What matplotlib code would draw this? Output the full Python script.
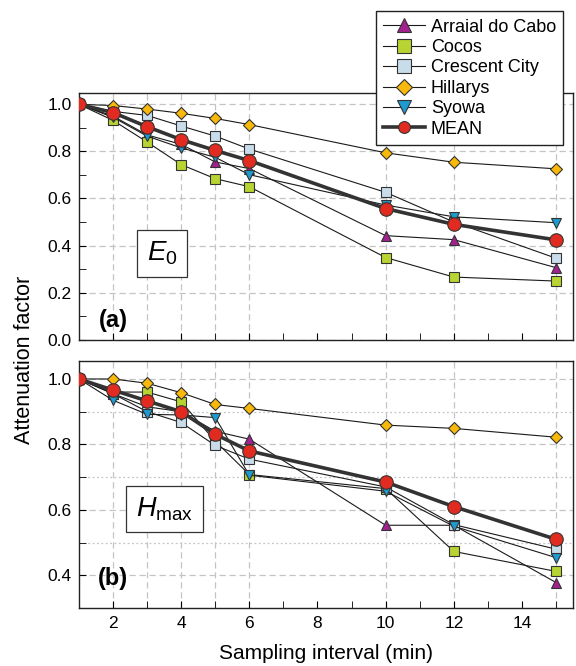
import matplotlib
matplotlib.use("Agg")
import matplotlib.pyplot as plt
from matplotlib.ticker import MultipleLocator, FormatStrFormatter

plt.rcParams['font.family'] = ['Liberation Sans', 'DejaVu Sans']
plt.rcParams['mathtext.fontset'] = 'custom'
plt.rcParams['mathtext.rm'] = 'Liberation Sans'
plt.rcParams['mathtext.it'] = 'Liberation Sans:italic'

# sampling intervals (min)
intervals = [1, 2, 3, 4, 5, 6, 10, 12, 15]
stations = ['Arraial do Cabo', 'Cocos', 'Crescent City', 'Hillarys', 'Syowa', 'MEAN']

# panel (a): E0 attenuation
arraial_e0 = [1.0, 0.95, 0.87, 0.83, 0.755, 0.727, 0.442, 0.425, 0.306]
cocos_e0 = [1.0, 0.932, 0.84, 0.744, 0.684, 0.65, 0.349, 0.266, 0.249]
crescent_e0 = [1.0, 0.97, 0.953, 0.908, 0.865, 0.81, 0.626, 0.50, 0.346]
hillarys_e0 = [1.0, 0.995, 0.98, 0.962, 0.94, 0.914, 0.794, 0.754, 0.726]
syowa_e0 = [1.0, 0.945, 0.865, 0.815, 0.775, 0.701, 0.572, 0.522, 0.497]
mean_e0 = [1.0, 0.965, 0.905, 0.85, 0.804, 0.761, 0.557, 0.49, 0.424]

# panel (b): Hmax attenuation
arraial_h = [1.0, 0.955, 0.915, 0.90, 0.84, 0.816, 0.553, 0.553, 0.378]
cocos_h = [1.0, 0.96, 0.96, 0.93, 0.81, 0.708, 0.665, 0.473, 0.412]
crescent_h = [1.0, 0.955, 0.90, 0.867, 0.797, 0.755, 0.67, 0.555, 0.48]
hillarys_h = [1.0, 1.0, 0.987, 0.958, 0.922, 0.91, 0.859, 0.849, 0.822]
syowa_h = [1.0, 0.935, 0.892, 0.89, 0.882, 0.706, 0.657, 0.55, 0.454]
mean_h = [1.0, 0.966, 0.933, 0.90, 0.831, 0.78, 0.685, 0.61, 0.51]

styles = [
    dict(marker='^', mfc='#a3218e', ms=7),
    dict(marker='s', mfc='#b8d432', ms=6.5),
    dict(marker='s', mfc='#c9dce9', ms=6.5),
    dict(marker='D', mfc='#f8b90b', ms=6),
    dict(marker='v', mfc='#1d9bd0', ms=7),
    dict(marker='o', mfc='#e12b20', ms=9.7),
]
legend_ms = [9.5, 9.5, 9.5, 8.5, 9.5, 8.5]

fig = plt.figure(figsize=(5.76, 6.66), dpi=100)
ax1 = fig.add_axes([0.137, 0.490, 0.858, 0.371])
ax2 = fig.add_axes([0.137, 0.087, 0.858, 0.371])

panels = [
    (ax1, [arraial_e0, cocos_e0, crescent_e0, hillarys_e0, syowa_e0, mean_e0]),
    (ax2, [arraial_h, cocos_h, crescent_h, hillarys_h, syowa_h, mean_h]),
]

grid_kw = dict(color='#c4c4c4', lw=0.9, ls=(0, (5, 3)), zorder=0)

for ax, series in panels:
    for name, vals, st in zip(stations, series, styles):
        if name == 'MEAN':
            ax.plot(intervals, vals, color='#333333', lw=2.6, mec='#333333',
                    mew=0.8, label=name, zorder=4, **st)
        else:
            ax.plot(intervals, vals, color='#1a1a1a', lw=0.8, mec='#333333',
                    mew=0.8, label=name, zorder=3, **st)
    for xv in intervals[1:]:
        ax.axvline(xv, **grid_kw)
    ax.set_xlim(1, 15.5)
    ax.xaxis.set_major_locator(MultipleLocator(2))
    ax.xaxis.set_minor_locator(MultipleLocator(1))
    ax.yaxis.set_major_locator(MultipleLocator(0.2))
    ax.yaxis.set_minor_locator(MultipleLocator(0.1))
    ax.yaxis.set_major_formatter(FormatStrFormatter('%.1f'))
    ax.grid(axis='y', which='major', **grid_kw)
    ax.tick_params(which='both', direction='in', labelsize=12.5, top=False, right=False)
    ax.tick_params(which='both', length=5)
    ax.tick_params(axis='y', pad=5)
    ax.tick_params(axis='x', pad=6)
    for sp in ax.spines.values():
        sp.set_linewidth(1.0)
        sp.set_color('#222222')

ax1.set_ylim(0, 1.05)
ax1.tick_params(axis='x', labelbottom=False)
ax2.set_ylim(0.3, 1.055)
ax2.grid(axis='y', which='minor', color='#c4c4c4', lw=0.9, ls=(0, (1.5, 2)), zorder=0)
ax2.set_xticks([2, 4, 6, 8, 10, 12, 14])
ax2.set_xlabel('Sampling interval (min)', fontsize=15, labelpad=9)

box = dict(boxstyle='square,pad=0.35', fc='white', ec='#333333', lw=0.9)
ax1.text(0.168, 0.348, r'$E_{\mathrm{0}}$', transform=ax1.transAxes, fontsize=20,
         ha='center', va='center', bbox=box, zorder=6)
ax2.text(0.173, 0.40, r'$H_{\mathrm{max}}$', transform=ax2.transAxes, fontsize=19.5,
         ha='center', va='center', bbox=box, zorder=6)
ax1.text(0.069, 0.079, '(a)', transform=ax1.transAxes, fontsize=17,
         fontweight='bold', ha='center', va='center')
ax2.text(0.069, 0.121, '(b)', transform=ax2.transAxes, fontsize=17,
         fontweight='bold', ha='center', va='center')

fig.text(0.042, 0.459, 'Attenuation factor', rotation=90, fontsize=15.5,
         ha='center', va='center')

h, l = ax1.get_legend_handles_labels()
leg = fig.legend(h, l, loc='upper right', bbox_to_anchor=(0.978, 0.983),
                 fontsize=13, frameon=True, fancybox=False, framealpha=1,
                 edgecolor='#222222', handlelength=2.3, handletextpad=0.33,
                 labelspacing=0.19, borderpad=0.4, borderaxespad=0)
leg.get_frame().set_linewidth(1.0)
leg.set_zorder(10)
for handle, size in zip(leg.legend_handles, legend_ms):
    handle.set_markersize(size)

fig.savefig('out.png', dpi=100)
